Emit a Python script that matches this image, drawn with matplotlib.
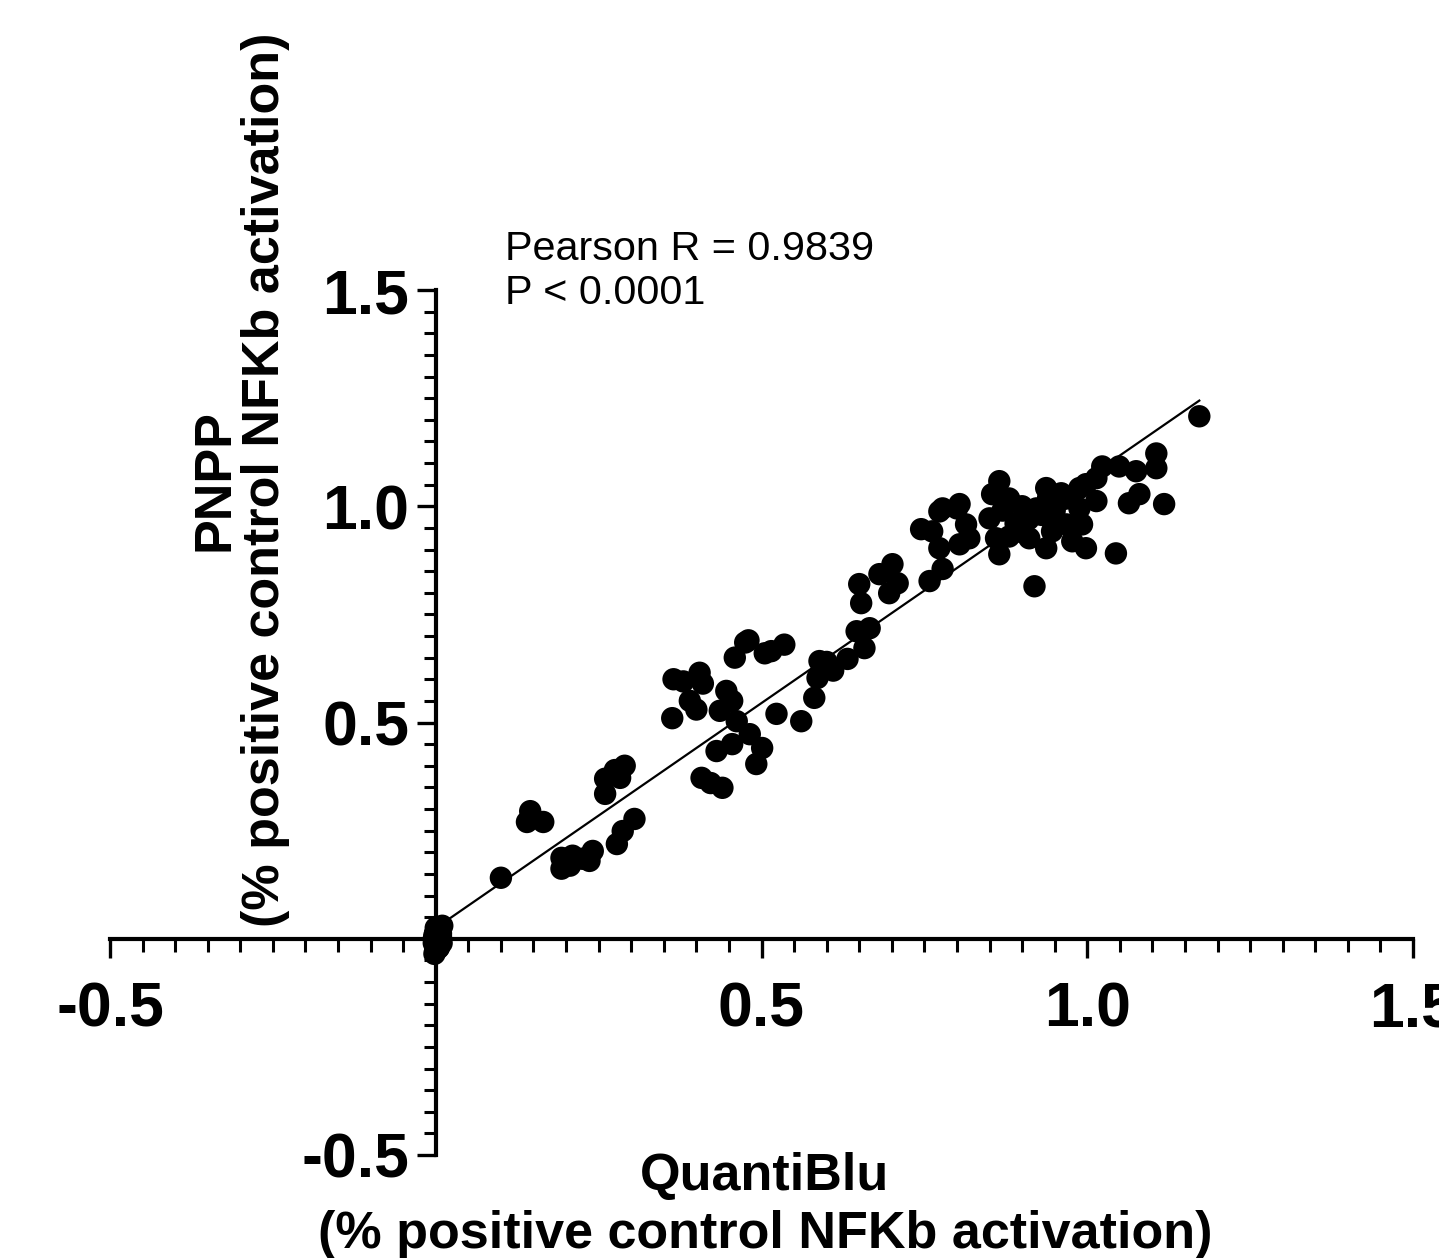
import numpy as np
import matplotlib.pyplot as plt
from matplotlib.ticker import FixedLocator, MultipleLocator

# QuantiBlu vs PNPP readout (fraction of positive control NFKb activation)
# first block: the many inactive samples sitting in the clump at the origin
quantiblu = [
    0.0, 0.002, -0.003, 0.005, 0.0, 0.008, -0.002, 0.004, 0.01, 0.0,
    0.001, 0.003, -0.001, 0.006, 0.002, 0.0, 0.004, 0.007, -0.002, 0.003,
    0.0, 0.005, 0.001, -0.003, 0.002, 0.009, 0.0, 0.004, 0.001, 0.006,
    0.002, -0.001, 0.003, 0.0, 0.005, 0.001, 0.008, 0.002, 0.0, 0.004,
    0.10,
    0.145, 0.165, 0.14,
    0.193, 0.193, 0.21, 0.225, 0.241, 0.236, 0.206,
    0.26, 0.26, 0.275, 0.29, 0.283,
    0.278, 0.287, 0.305,
    0.365, 0.38, 0.405, 0.41, 0.39, 0.363, 0.40,
    0.459, 0.475, 0.48, 0.505, 0.515, 0.535,
    0.446, 0.455, 0.436, 0.462, 0.482, 0.501, 0.431, 0.492, 0.455,
    0.408, 0.44, 0.422,
    0.523, 0.561,
    0.589, 0.581, 0.586, 0.60, 0.61,
    0.646, 0.666, 0.658, 0.632,
    0.65, 0.653, 0.701, 0.681, 0.696, 0.709,
    0.758, 0.778,
    0.762, 0.778, 0.804, 0.773, 0.804, 0.814, 0.773, 0.80, 0.819, 0.745,
    0.865, 0.854, 0.880, 0.850, 0.860, 0.865,
    0.937, 0.957, 0.922, 0.911, 0.937, 0.968, 0.988, 0.998, 0.946, 0.977, 0.998,
    0.919,
    0.87, 0.89, 0.90, 0.91, 0.93, 0.95, 0.96, 0.94, 0.90, 0.88,
    1.172, 1.106, 1.106, 1.075, 1.049, 1.023, 1.014,
    1.08, 1.064, 1.118,
    1.044, 0.992, 1.014, 0.968, 0.988,
]
pnpp = [
    0.0, 0.015, -0.01, -0.02, 0.025, 0.005, -0.035, 0.01, 0.03, -0.015,
    0.002, -0.006, 0.012, -0.012, 0.02, -0.025, 0.004, -0.003, 0.008, 0.018,
    -0.008, 0.01, -0.018, 0.0, 0.006, -0.01, 0.014, -0.022, 0.003, 0.02,
    -0.004, -0.028, 0.009, 0.016, -0.015, 0.001, 0.012, -0.009, 0.005, -0.001,
    0.141,
    0.295, 0.27, 0.27,
    0.162, 0.187, 0.192, 0.185, 0.203, 0.18, 0.169,
    0.335, 0.37, 0.39, 0.40, 0.372,
    0.219, 0.249, 0.277,
    0.60, 0.595, 0.615, 0.59, 0.55, 0.51, 0.53,
    0.65, 0.685, 0.69, 0.66, 0.665, 0.68,
    0.573, 0.55, 0.527, 0.503, 0.473, 0.441, 0.434, 0.404, 0.45,
    0.372, 0.349, 0.36,
    0.52, 0.503,
    0.642, 0.557, 0.603, 0.64, 0.62,
    0.711, 0.718, 0.672, 0.647,
    0.82, 0.776, 0.866, 0.843, 0.799, 0.822,
    0.827, 0.855,
    0.942, 0.995, 1.005, 0.903, 0.912, 0.958, 0.988, 0.995, 0.926, 0.947,
    1.058, 1.028, 1.018, 0.972, 0.926, 0.889,
    1.042, 1.012, 0.995, 0.926, 0.903, 0.958, 0.995, 0.903, 0.942, 0.919, 1.051,
    0.815,
    0.99, 0.96, 1.0, 0.97, 0.98, 0.99, 1.03, 1.02, 0.94, 0.93,
    1.208, 1.122, 1.088, 1.081, 1.092, 1.092, 1.065,
    1.028, 1.007, 1.005,
    0.891, 0.958, 1.012, 1.018, 1.042,
]
major_ticks = [-0.5, 0.5, 1.0, 1.5]
tick_labels = ['-0.5', '0.5', '1.0', '1.5']

plt.rcParams['font.family'] = ['Liberation Sans', 'DejaVu Sans']

fig = plt.figure(figsize=(14.39, 12.58), dpi=100)
ax = fig.add_axes([110/1439, 103/1258, 1303/1439, 865/1258])

x = np.array(quantiblu)
y = np.array(pnpp)
ax.scatter(x, y, s=260, c='black', edgecolors='none', clip_on=False, zorder=3)

# linear fit over the data range
slope, intercept = np.polyfit(x, y, 1)
xs = np.array([x.min(), x.max()])
ax.plot(xs, slope * xs + intercept, color='black', lw=1.6, zorder=2)

ax.set_xlim(-0.5, 1.5)
ax.set_ylim(-0.5, 1.5)
ax.spines['top'].set_visible(False)
ax.spines['right'].set_visible(False)
ax.spines['left'].set_position(('data', 0))
ax.spines['bottom'].set_position(('data', 0))
ax.spines['left'].set_linewidth(3)
ax.spines['bottom'].set_linewidth(3)

for axis in (ax.xaxis, ax.yaxis):
    axis.set_major_locator(FixedLocator(major_ticks))
    axis.set_minor_locator(MultipleLocator(0.05))
ax.set_xticklabels(tick_labels, fontsize=45, fontweight='bold')
ax.set_yticklabels(tick_labels, fontsize=45, fontweight='bold')

ax.tick_params(which='major', length=14, width=2.4, direction='out')
ax.tick_params(which='minor', length=9, width=2.2, direction='out')
ax.tick_params(axis='x', which='major', pad=16)
ax.tick_params(axis='y', which='major', pad=5)

fig.text(505/1439, 1 - 230/1258, 'Pearson R = 0.9839\nP < 0.0001',
         fontsize=29.8, va='top', ha='left', linespacing=1.2)

fig.text(240/1439, 1 - 480/1258, 'PNPP\n(% positive control NFKb activation)',
         rotation=90, ha='center', va='center', fontsize=37.5,
         fontweight='bold', linespacing=1.05, multialignment='center')

# x title as two separate lines
fig.text(765/1439, 1 - 1190/1258, 'QuantiBlu',
         ha='center', va='baseline', fontsize=37.5, fontweight='bold')
fig.text(765/1439, 1 - 1248/1258, '(% positive control NFKb activation)',
         ha='center', va='baseline', fontsize=37.5, fontweight='bold')

fig.savefig('out.png', dpi=100)
